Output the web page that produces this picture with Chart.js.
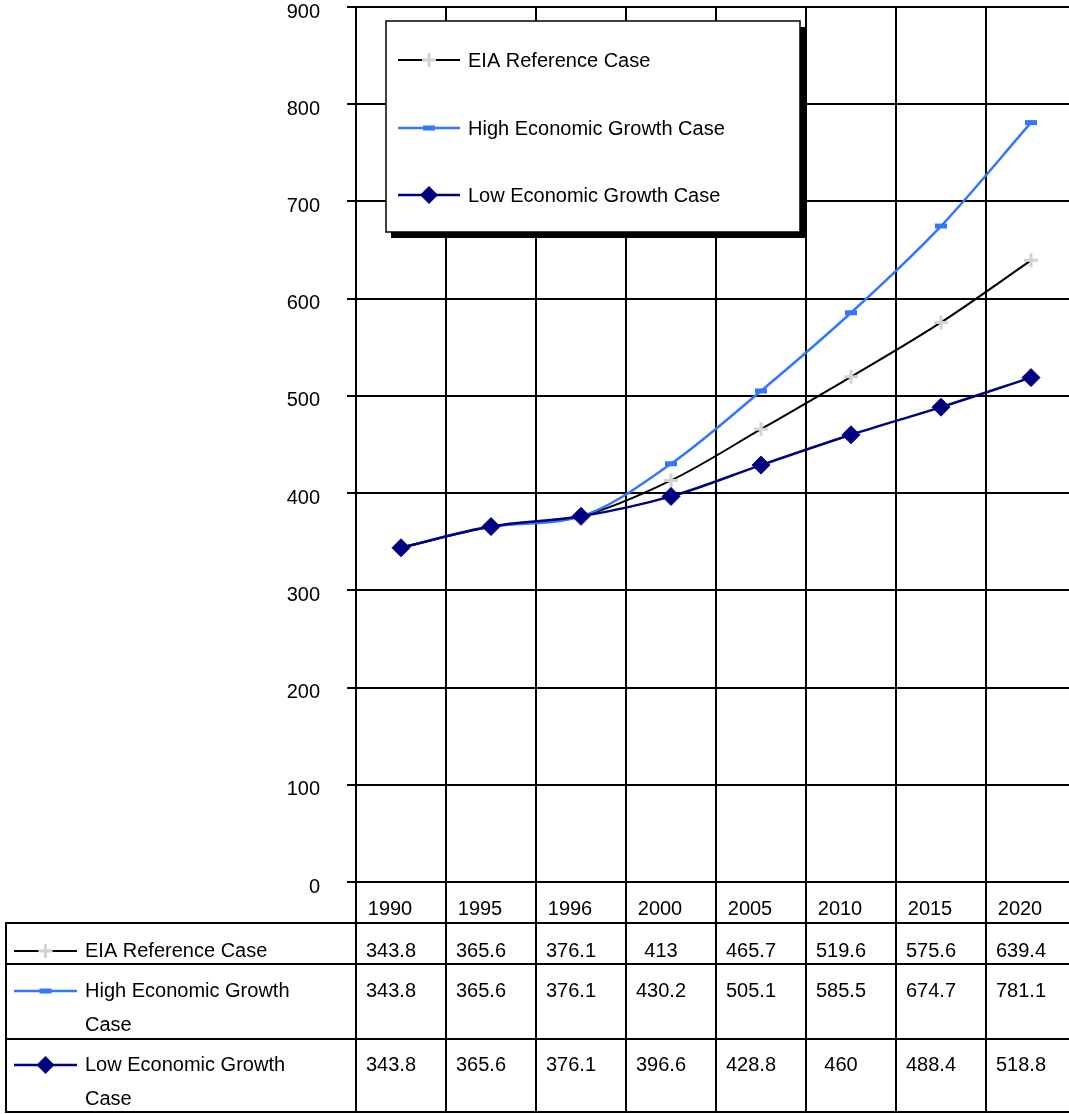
<!DOCTYPE html>
<html>
<head>
<title>EIA Growth Cases</title>
<script src="https://cdn.jsdelivr.net/npm/chart.js"></script>
<style>
html, body { margin: 0; padding: 0; overflow: hidden; background: #fff; }
#wrap { position: relative; width: 1069px; height: 1114px; overflow: hidden; }
#chart { position: absolute; left: 0; top: 0; }
</style>
</head>
<body>
<div id="wrap"><canvas id="chart" width="1076" height="1114"></canvas></div>
<script>
var years = ['1990', '1995', '1996', '2000', '2005', '2010', '2015', '2020'];
var seriesNames = ['EIA Reference Case', 'High Economic Growth Case', 'Low Economic Growth Case'];
var referenceCase = [343.8, 365.6, 376.1, 413, 465.7, 519.6, 575.6, 639.4];
var highGrowth = [343.8, 365.6, 376.1, 430.2, 505.1, 585.5, 674.7, 781.1];
var lowGrowth = [343.8, 365.6, 376.1, 396.6, 428.8, 460, 488.4, 518.8];
var yTicks = [0, 100, 200, 300, 400, 500, 600, 700, 800, 900];

var FONT = '20px "Liberation Sans", Arial, sans-serif';

// marker drawing for legend + table samples
function drawMarker(ctx, ds, x, y) {
    var r = ds.pointRadius;
    ctx.save();
    ctx.strokeStyle = ds.pointBorderColor;
    ctx.fillStyle = ds.pointBackgroundColor || ds.pointBorderColor;
    ctx.lineWidth = ds.pointBorderWidth;
    ctx.beginPath();
    if (ds.pointStyle === 'cross') {
        ctx.moveTo(x - r, y); ctx.lineTo(x + r, y);
        ctx.moveTo(x, y - r); ctx.lineTo(x, y + r);
        ctx.stroke();
    } else if (ds.pointStyle === 'line') {
        ctx.moveTo(x - r, y); ctx.lineTo(x + r, y);
        ctx.stroke();
    } else {
        ctx.moveTo(x - r, y); ctx.lineTo(x, y - r);
        ctx.lineTo(x + r, y); ctx.lineTo(x, y + r);
        ctx.closePath();
        ctx.fill();
    }
    ctx.restore();
}

function drawSample(ctx, ds, x1, x2, y) {
    ctx.save();
    ctx.strokeStyle = ds.borderColor;
    ctx.lineWidth = ds.borderWidth;
    ctx.beginPath();
    ctx.moveTo(x1, y); ctx.lineTo(x2, y);
    ctx.stroke();
    ctx.restore();
    drawMarker(ctx, ds, (x1 + x2) / 2, y);
}

function wrapText(ctx, text, maxW) {
    var words = text.split(' ');
    var lines = [];
    var cur = '';
    words.forEach(function (w) {
        var test = cur ? cur + ' ' + w : w;
        if (ctx.measureText(test).width > maxW && cur) {
            lines.push(cur);
            cur = w;
        } else {
            cur = test;
        }
    });
    lines.push(cur);
    return lines;
}

var boxLegend = {
    id: 'boxLegend',
    afterDatasetsDraw: function (chart) {
        var ctx = chart.ctx;
        var bx = 386, by = 21, bw = 414, bh = 211;
        ctx.save();
        ctx.fillStyle = '#000';
        ctx.fillRect(bx + 5, by + 6, bw, bh);
        ctx.fillStyle = '#fff';
        ctx.fillRect(bx, by, bw, bh);
        ctx.strokeStyle = '#000';
        ctx.lineWidth = 1.5;
        ctx.strokeRect(bx, by, bw, bh);
        ctx.font = FONT;
        ctx.fillStyle = '#000';
        ctx.textBaseline = 'middle';
        var rows = [60, 128, 195];
        chart.data.datasets.forEach(function (ds, i) {
            drawSample(ctx, ds, 398, 460, rows[i]);
            ctx.fillText(ds.label, 468, rows[i] + 1);
        });
        ctx.restore();
    }
};

var dataTable = {
    id: 'dataTable',
    afterDraw: function (chart) {
        var ctx = chart.ctx;
        var xs = chart.scales.x;
        var area = chart.chartArea;
        var half = (xs.getPixelForValue(1) - xs.getPixelForValue(0)) / 2;
        var rowLines = [923, 964, 1039, 1112];
        var textY = [[951], [991, 1025], [1065, 1099]];
        var left = 6;
        ctx.save();
        ctx.strokeStyle = '#000';
        ctx.lineWidth = 2;
        ctx.beginPath();
        for (var i = 0; i <= years.length; i++) {
            var bx = Math.round(xs.getPixelForValue(0) - half + i * half * 2);
            ctx.moveTo(bx, area.bottom);
            ctx.lineTo(bx, rowLines[3]);
        }
        ctx.moveTo(left, rowLines[0]);
        ctx.lineTo(left, rowLines[3]);
        rowLines.forEach(function (ry) {
            ctx.moveTo(left - 1, ry);
            ctx.lineTo(area.right, ry);
        });
        ctx.stroke();

        ctx.font = FONT;
        ctx.fillStyle = '#000';
        ctx.textBaseline = 'middle';
        ctx.textAlign = 'center';
        years.forEach(function (yr, i) {
            ctx.fillText(yr, xs.getPixelForValue(i) - 11, 909);
        });
        chart.data.datasets.forEach(function (ds, r) {
            ds.data.forEach(function (v, i) {
                ctx.fillText(String(v), xs.getPixelForValue(i) - 10, textY[r][0]);
            });
        });
        ctx.textAlign = 'left';
        chart.data.datasets.forEach(function (ds, r) {
            drawSample(ctx, ds, 14, 77, textY[r][0]);
            var lines = wrapText(ctx, ds.label, 240);
            lines.forEach(function (ln, k) {
                ctx.fillText(ln, 85, textY[r][0] + k * 34);
            });
        });
        ctx.restore();
    }
};

new Chart(document.getElementById('chart'), {
    type: 'line',
    data: {
        labels: years,
        datasets: [{
            label: seriesNames[0],
            data: referenceCase,
            borderColor: '#000000',
            borderWidth: 2,
            pointStyle: 'cross',
            pointRadius: 7,
            pointBorderColor: '#d2d2d2',
            pointBorderWidth: 3,
            cubicInterpolationMode: 'monotone',
            order: 2
        }, {
            label: seriesNames[1],
            data: highGrowth,
            borderColor: '#3377ff',
            borderWidth: 2.5,
            pointStyle: 'line',
            pointRadius: 6,
            pointBorderColor: '#3377ff',
            pointBorderWidth: 5,
            cubicInterpolationMode: 'monotone',
            order: 1
        }, {
            label: seriesNames[2],
            data: lowGrowth,
            borderColor: '#000080',
            borderWidth: 2.5,
            pointStyle: 'rectRot',
            pointRadius: 9,
            pointBackgroundColor: '#000080',
            pointBorderColor: '#000080',
            pointBorderWidth: 1,
            cubicInterpolationMode: 'monotone',
            order: 0
        }]
    },
    options: {
        responsive: false,
        animation: false,
        layout: { autoPadding: false, padding: { top: 7, bottom: 232, left: 0, right: 0 } },
        plugins: {
            legend: { display: false },
            tooltip: { enabled: false }
        },
        scales: {
            x: {
                offset: true,
                grid: { offset: true, color: '#000', lineWidth: 2, drawTicks: false },
                border: { color: '#000', width: 2 },
                ticks: { display: false },
                afterFit: function (s) { s.height = 0; s.paddingLeft = 0; s.paddingRight = 0; }
            },
            y: {
                min: 0,
                max: 900,
                afterBuildTicks: function (s) { s.ticks = yTicks.map(function (v) { return { value: v }; }); },
                grid: { color: '#000', lineWidth: 2, tickLength: 9 },
                border: { color: '#000', width: 2 },
                ticks: {
                    color: '#000',
                    padding: 27,
                    labelOffset: 5,
                    font: { family: '"Liberation Sans", Arial, sans-serif', size: 20 }
                },
                afterFit: function (s) { s.width = 356; s.paddingTop = 0; s.paddingBottom = 0; }
            }
        }
    },
    plugins: [boxLegend, dataTable]
});
</script>
</body>
</html>
